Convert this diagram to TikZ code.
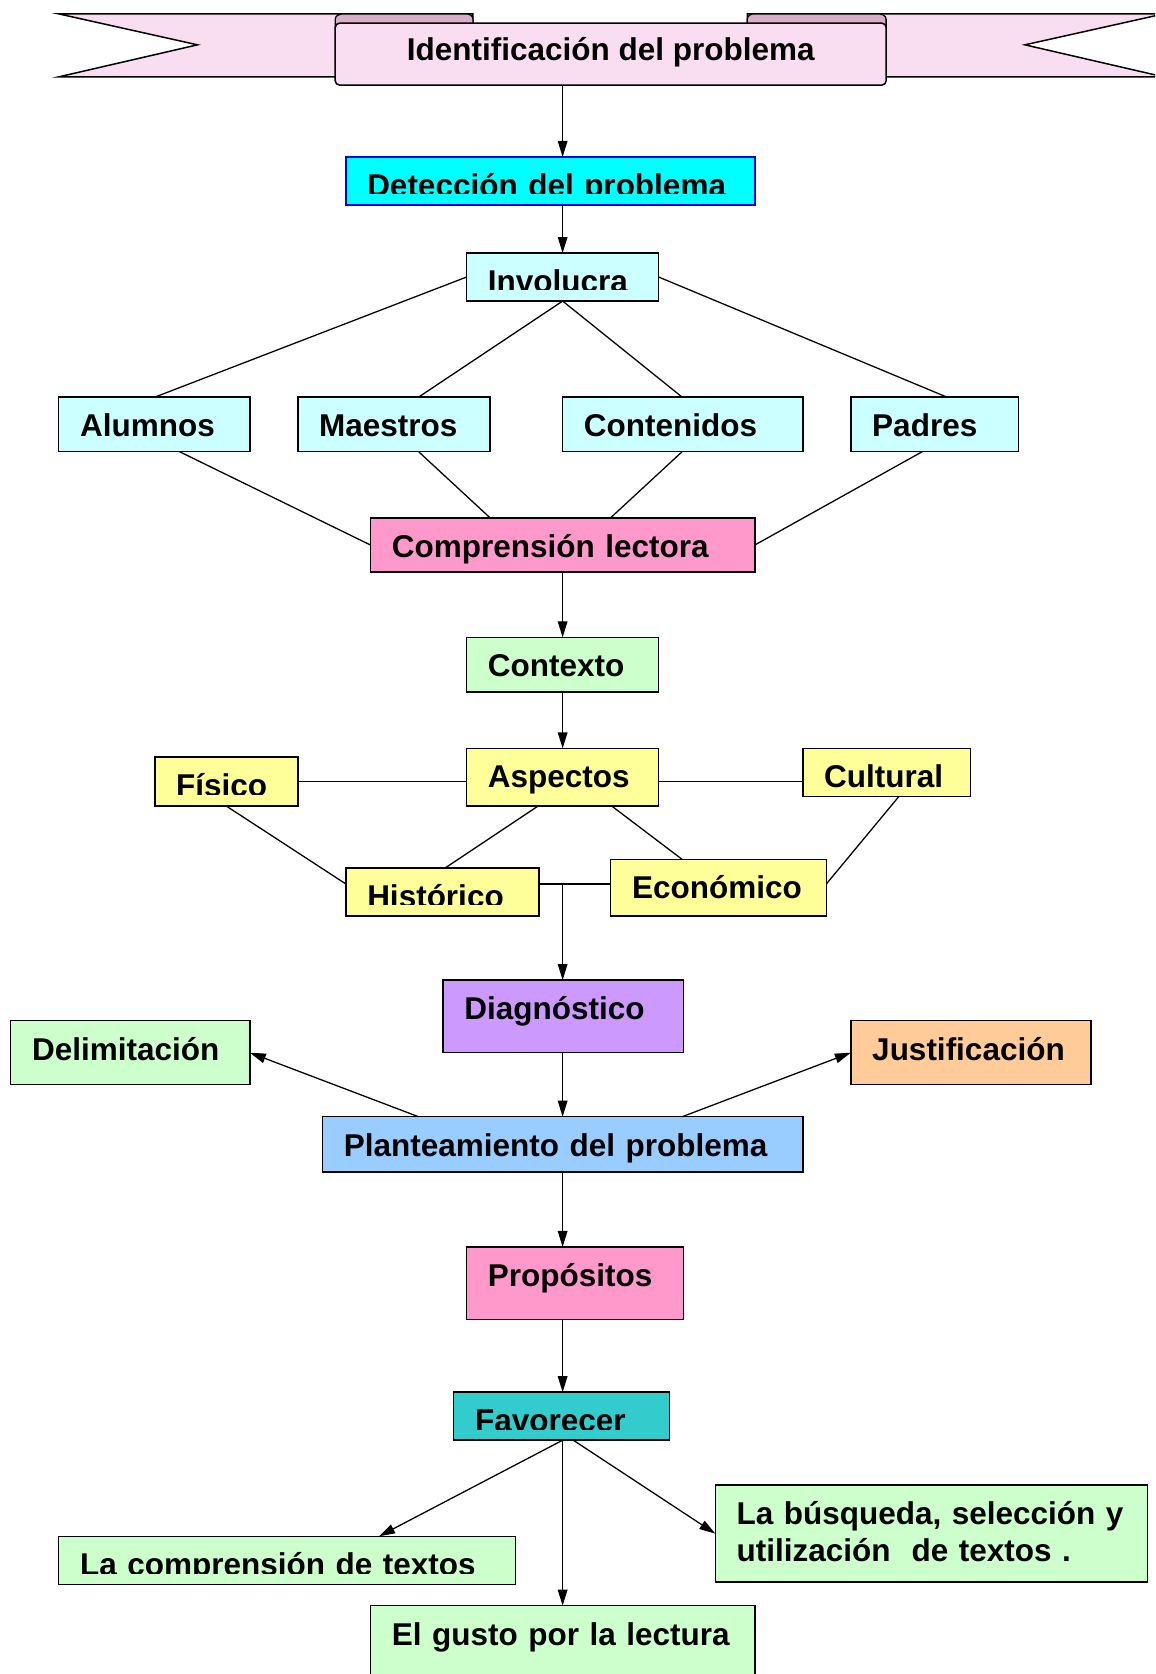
\documentclass[tikz,border=0pt]{standalone}
\usepackage{fontspec}
\setmainfont{Liberation Sans}
\usepackage{xcolor}
\usepackage{tikz}
\usetikzlibrary{arrows.meta}

\definecolor{banda}{HTML}{F9DDF0}
\definecolor{pliegue}{HTML}{D9AECB}
\definecolor{cian}{HTML}{00FFFF}
\definecolor{celeste}{HTML}{CCFFFF}
\definecolor{rosa}{HTML}{FF99CC}
\definecolor{verde}{HTML}{CCFFCC}
\definecolor{amarillo}{HTML}{FFFF99}
\definecolor{morado}{HTML}{CC99FF}
\definecolor{naranja}{HTML}{FFCC99}
\definecolor{azul}{HTML}{99CCFF}
\definecolor{turquesa}{HTML}{33CCCC}

\hyphenpenalty=10000

\begin{document}
\begin{tikzpicture}[x=1pt, y=-1pt, >={Triangle[length=15pt,width=9pt]},
  caja/.style={draw, line width=1.4pt, anchor=north west, outer sep=0pt,
    inner xsep=20pt, inner ysep=0pt, text height=37pt, align=left,
    font=\bfseries\fontsize{29.5}{34.5}\selectfont},
  linea/.style={line width=1.2pt}]
\clip (0,0) rectangle (1082,1568);
\coordinate (eje) at (527,0);
\coordinate (union) at (527,828);

% banner
\draw[line width=1.4pt, fill=banda] (55,13) -- (443,13) -- (443,72) -- (55,72) -- (185,42) -- cycle;
\draw[line width=1.4pt, fill=banda] (1090,13) -- (700,13) -- (700,72) -- (1090,72) -- (960,42) -- cycle;
\draw[line width=1.2pt, fill=pliegue] (314,26) -- (314,18) to[out=90,in=180] (322,13) -- (437,13) to[out=0,in=90] (443,18) -- (443,26);
\draw[line width=1.2pt, fill=pliegue] (830,26) -- (830,18) to[out=90,in=0] (822,13) -- (706,13) to[out=180,in=90] (700,18) -- (700,26);
\node[draw, line width=1.4pt, fill=banda, rounded corners=4pt, anchor=north, minimum width=516pt,
  inner ysep=0pt, text height=35pt, text depth=23pt,
  font=\bfseries\fontsize{29.5}{34.5}\selectfont] (identificacion) at (572,21) {Identificación del problema};

\node[caja, fill=cian, draw=blue, text width=343pt, text depth=8pt] (deteccion) at (324,147) {Detección del problema};
\node[caja, fill=celeste, text width=140pt, text depth=8pt] (involucra) at (437,237) {Involucra};

\node[caja, fill=celeste, text width=139pt, text depth=14pt] (alumnos) at (55,372) {Alumnos};
\node[caja, fill=celeste, text width=140pt, text depth=14pt] (maestros) at (279,372) {Maestros};
\node[caja, fill=celeste, text width=185pt, text depth=14pt] (contenidos) at (527,372) {Contenidos};
\node[caja, fill=celeste, text width=117pt, text depth=14pt] (padres) at (797,372) {Padres};

\node[caja, fill=rosa, text width=320pt, text depth=14pt] (comprension) at (347,485) {Comprensión lectora};
\node[caja, fill=verde, text width=140pt, text depth=14pt] (contexto) at (437,597) {Contexto};

\node[caja, fill=amarillo, text width=140pt, text depth=17pt] (aspectos) at (437,701) {Aspectos};
\node[caja, fill=amarillo, text width=94pt, text depth=9pt] (fisico) at (145,709) {Físico};
\node[caja, fill=amarillo, text width=117pt, text depth=8pt] (cultural) at (752,701) {Cultural};
\node[caja, fill=amarillo, text width=141pt, text depth=8pt] (historico) at (324,813) {Histórico};
\node[caja, fill=amarillo, text width=162pt, text depth=16pt] (economico) at (572,805) {Económico};

\node[caja, fill=morado, text width=185pt, text depth=31pt] (diagnostico) at (415,918) {Diagnóstico};
\node[caja, fill=verde, text width=184pt, text depth=23pt] (delimitacion) at (10,956) {Delimitación};
\node[caja, fill=naranja, text width=185pt, text depth=23pt] (justificacion) at (797,956) {Justificación};
\node[caja, fill=azul, text width=410pt, text depth=15pt] (planteamiento) at (302,1046) {Planteamiento del problema};
\node[caja, fill=rosa, text width=163pt, text depth=31pt] (propositos) at (437,1168) {Propósitos};

\node[caja, fill=turquesa, text width=162pt, text depth=8pt] (favorecer) at (425,1304) {Favorecer};
\node[caja, fill=verde, text width=388pt, text depth=8pt] (textos) at (55,1439) {La comprensión de textos};
\node[caja, fill=verde, text width=365pt, text depth=54pt] (busqueda) at (670,1391) {La búsqueda, selección y\\utilización\ \ de textos .};
\node[caja, fill=verde, text width=320pt, text depth=53pt] (gusto) at (347,1504) {El gusto por la lectura};

% cut off the text bottoms
\fill[cian] ([shift={(1pt,1pt)}]deteccion.south west) rectangle ([shift={(-1pt,10pt)}]deteccion.south east);
\fill[celeste] ([shift={(1pt,1pt)}]involucra.south west) rectangle ([shift={(-1pt,10pt)}]involucra.south east);
\fill[amarillo] ([shift={(1pt,1pt)}]fisico.south west) rectangle ([shift={(-1pt,10pt)}]fisico.south east);
\fill[amarillo] ([shift={(1pt,1pt)}]historico.south west) rectangle ([shift={(-1pt,10pt)}]historico.south east);
\fill[turquesa] ([shift={(1pt,1pt)}]favorecer.south west) rectangle ([shift={(-1pt,10pt)}]favorecer.south east);
\fill[verde] ([shift={(1pt,1pt)}]textos.south west) rectangle ([shift={(-1pt,10pt)}]textos.south east);

\draw[linea,->] (identificacion.south -| eje) -- (deteccion.north -| eje);
\draw[linea,->] (deteccion.south -| eje) -- (involucra.north -| eje);

\draw[linea] (involucra.west) -- ([xshift=90pt]alumnos.north west);
\draw[linea] (involucra.south) -- ([xshift=113pt]maestros.north west);
\draw[linea] (involucra.south) -- ([xshift=112pt]contenidos.north west);
\draw[linea] (involucra.east) -- ([xshift=90pt]padres.north west);

\draw[linea] ([xshift=113pt]alumnos.south west) -- (comprension.west);
\draw[linea] ([xshift=113pt]maestros.south west) -- ([xshift=112pt]comprension.north west);
\draw[linea] ([xshift=112pt]contenidos.south west) -- ([xshift=225pt]comprension.north west);
\draw[linea] ([xshift=67pt]padres.south west) -- (comprension.east);

\draw[linea,->] (comprension.south -| eje) -- (contexto.north -| eje);
\draw[linea,->] (contexto.south -| eje) -- (aspectos.north -| eje);

\draw[linea] (fisico.east) -- (fisico.east -| aspectos.west);
\draw[linea] (aspectos.east |- fisico.east) -- (cultural.west |- fisico.east);
\draw[linea] ([xshift=67pt]fisico.south west) -- (historico.west |- union);
\draw[linea] ([xshift=67pt]aspectos.south west) -- ([xshift=93pt]historico.north west);
\draw[linea] ([xshift=136pt]aspectos.south west) -- ([xshift=67pt]economico.north west);
\draw[linea] ([xshift=90pt]cultural.south west) -- (economico.east |- union);
\draw[linea] (historico.east |- union) -- (economico.west |- union);
\draw[linea,->] (union) -- (diagnostico.north -| union);

\draw[linea,->] (diagnostico.south -| eje) -- (planteamiento.north -| eje);
\draw[linea,->] ([xshift=90pt]planteamiento.north west) -- (delimitacion.east);
\draw[linea,->] ([xshift=337pt]planteamiento.north west) -- (justificacion.west);
\draw[linea,->] (planteamiento.south -| eje) -- (propositos.north -| eje);
\draw[linea,->] (propositos.south -| eje) -- (favorecer.north -| eje);

\draw[linea,->] (favorecer.south -| eje) -- ([xshift=300pt]textos.north west);
\draw[linea,->] (favorecer.south -| eje) -- (gusto.north -| eje);
\draw[linea,->] ([xshift=112pt]favorecer.south west) -- (busqueda.west);
\end{tikzpicture}
\end{document}
